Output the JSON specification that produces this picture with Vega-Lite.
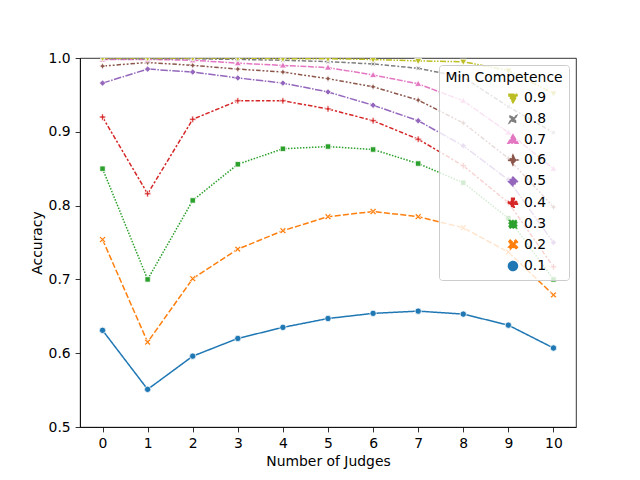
{
  "$schema": "https://vega.github.io/schema/vega-lite/v6.json",
  "description": "Accuracy by number of judges, one line per minimum competence",
  "width": 496,
  "height": 369,
  "autosize": {"type": "none"},
  "padding": {"left": 80, "top": 58, "right": 64, "bottom": 53},
  "config": {
    "font": "DejaVu Sans",
    "view": {"stroke": "black", "strokeWidth": 0.8},
    "axis": {
      "grid": false,
      "domainColor": "black",
      "domainWidth": 0.8,
      "tickColor": "black",
      "tickWidth": 0.8,
      "tickSize": 4.9,
      "labelFontSize": 13.9,
      "labelColor": "black",
      "labelPadding": 4.9,
      "labelFont": "DejaVu Sans",
      "titleFont": "DejaVu Sans",
      "titleFontSize": 13.9,
      "titleFontWeight": "normal",
      "titleColor": "black"
    }
  },
  "data": {
    "values": [
      {"judges": 0, "comp": "0.1", "acc": 0.631}, {"judges": 1, "comp": "0.1", "acc": 0.551}, {"judges": 2, "comp": "0.1", "acc": 0.596}, {"judges": 3, "comp": "0.1", "acc": 0.620}, {"judges": 4, "comp": "0.1", "acc": 0.635}, {"judges": 5, "comp": "0.1", "acc": 0.647}, {"judges": 6, "comp": "0.1", "acc": 0.654}, {"judges": 7, "comp": "0.1", "acc": 0.657}, {"judges": 8, "comp": "0.1", "acc": 0.653}, {"judges": 9, "comp": "0.1", "acc": 0.638}, {"judges": 10, "comp": "0.1", "acc": 0.607},
      {"judges": 0, "comp": "0.2", "acc": 0.754}, {"judges": 1, "comp": "0.2", "acc": 0.615}, {"judges": 2, "comp": "0.2", "acc": 0.701}, {"judges": 3, "comp": "0.2", "acc": 0.741}, {"judges": 4, "comp": "0.2", "acc": 0.766}, {"judges": 5, "comp": "0.2", "acc": 0.785}, {"judges": 6, "comp": "0.2", "acc": 0.792}, {"judges": 7, "comp": "0.2", "acc": 0.785}, {"judges": 8, "comp": "0.2", "acc": 0.770}, {"judges": 9, "comp": "0.2", "acc": 0.737}, {"judges": 10, "comp": "0.2", "acc": 0.679},
      {"judges": 0, "comp": "0.3", "acc": 0.850}, {"judges": 1, "comp": "0.3", "acc": 0.700}, {"judges": 2, "comp": "0.3", "acc": 0.807}, {"judges": 3, "comp": "0.3", "acc": 0.856}, {"judges": 4, "comp": "0.3", "acc": 0.877}, {"judges": 5, "comp": "0.3", "acc": 0.880}, {"judges": 6, "comp": "0.3", "acc": 0.876}, {"judges": 7, "comp": "0.3", "acc": 0.857}, {"judges": 8, "comp": "0.3", "acc": 0.831}, {"judges": 9, "comp": "0.3", "acc": 0.783}, {"judges": 10, "comp": "0.3", "acc": 0.700},
      {"judges": 0, "comp": "0.4", "acc": 0.920}, {"judges": 1, "comp": "0.4", "acc": 0.816}, {"judges": 2, "comp": "0.4", "acc": 0.917}, {"judges": 3, "comp": "0.4", "acc": 0.942}, {"judges": 4, "comp": "0.4", "acc": 0.942}, {"judges": 5, "comp": "0.4", "acc": 0.931}, {"judges": 6, "comp": "0.4", "acc": 0.915}, {"judges": 7, "comp": "0.4", "acc": 0.890}, {"judges": 8, "comp": "0.4", "acc": 0.854}, {"judges": 9, "comp": "0.4", "acc": 0.804}, {"judges": 10, "comp": "0.4", "acc": 0.717},
      {"judges": 0, "comp": "0.5", "acc": 0.966}, {"judges": 1, "comp": "0.5", "acc": 0.985}, {"judges": 2, "comp": "0.5", "acc": 0.981}, {"judges": 3, "comp": "0.5", "acc": 0.973}, {"judges": 4, "comp": "0.5", "acc": 0.966}, {"judges": 5, "comp": "0.5", "acc": 0.954}, {"judges": 6, "comp": "0.5", "acc": 0.936}, {"judges": 7, "comp": "0.5", "acc": 0.915}, {"judges": 8, "comp": "0.5", "acc": 0.881}, {"judges": 9, "comp": "0.5", "acc": 0.835}, {"judges": 10, "comp": "0.5", "acc": 0.750},
      {"judges": 0, "comp": "0.6", "acc": 0.989}, {"judges": 1, "comp": "0.6", "acc": 0.994}, {"judges": 2, "comp": "0.6", "acc": 0.990}, {"judges": 3, "comp": "0.6", "acc": 0.985}, {"judges": 4, "comp": "0.6", "acc": 0.981}, {"judges": 5, "comp": "0.6", "acc": 0.972}, {"judges": 6, "comp": "0.6", "acc": 0.961}, {"judges": 7, "comp": "0.6", "acc": 0.943}, {"judges": 8, "comp": "0.6", "acc": 0.912}, {"judges": 9, "comp": "0.6", "acc": 0.864}, {"judges": 10, "comp": "0.6", "acc": 0.798},
      {"judges": 0, "comp": "0.7", "acc": 0.998}, {"judges": 1, "comp": "0.7", "acc": 0.998}, {"judges": 2, "comp": "0.7", "acc": 0.997}, {"judges": 3, "comp": "0.7", "acc": 0.993}, {"judges": 4, "comp": "0.7", "acc": 0.990}, {"judges": 5, "comp": "0.7", "acc": 0.987}, {"judges": 6, "comp": "0.7", "acc": 0.977}, {"judges": 7, "comp": "0.7", "acc": 0.965}, {"judges": 8, "comp": "0.7", "acc": 0.942}, {"judges": 9, "comp": "0.7", "acc": 0.899}, {"judges": 10, "comp": "0.7", "acc": 0.850},
      {"judges": 0, "comp": "0.8", "acc": 0.999}, {"judges": 1, "comp": "0.8", "acc": 0.999}, {"judges": 2, "comp": "0.8", "acc": 0.999}, {"judges": 3, "comp": "0.8", "acc": 0.998}, {"judges": 4, "comp": "0.8", "acc": 0.997}, {"judges": 5, "comp": "0.8", "acc": 0.995}, {"judges": 6, "comp": "0.8", "acc": 0.992}, {"judges": 7, "comp": "0.8", "acc": 0.986}, {"judges": 8, "comp": "0.8", "acc": 0.974}, {"judges": 9, "comp": "0.8", "acc": 0.934}, {"judges": 10, "comp": "0.8", "acc": 0.899},
      {"judges": 0, "comp": "0.9", "acc": 1.000}, {"judges": 1, "comp": "0.9", "acc": 1.000}, {"judges": 2, "comp": "0.9", "acc": 1.000}, {"judges": 3, "comp": "0.9", "acc": 1.000}, {"judges": 4, "comp": "0.9", "acc": 0.999}, {"judges": 5, "comp": "0.9", "acc": 0.999}, {"judges": 6, "comp": "0.9", "acc": 0.998}, {"judges": 7, "comp": "0.9", "acc": 0.996}, {"judges": 8, "comp": "0.9", "acc": 0.995}, {"judges": 9, "comp": "0.9", "acc": 0.983}, {"judges": 10, "comp": "0.9", "acc": 0.952}
    ]
  },
  "encoding": {
    "x": {
      "field": "judges",
      "type": "quantitative",
      "title": "Number of Judges",
      "scale": {"domain": [-0.5, 10.5], "nice": false, "zero": false},
      "axis": {"values": [0, 1, 2, 3, 4, 5, 6, 7, 8, 9, 10], "labelAngle": 0, "titlePadding": 4}
    },
    "y": {
      "field": "acc",
      "type": "quantitative",
      "title": "Accuracy",
      "scale": {"domain": [0.5, 1.0], "nice": false, "zero": false},
      "axis": {"values": [0.5, 0.6, 0.7, 0.8, 0.9, 1.0], "format": ".1f", "titlePadding": 4}
    },
    "color": {
      "field": "comp",
      "type": "nominal",
      "scale": {
        "domain": ["0.9", "0.8", "0.7", "0.6", "0.5", "0.4", "0.3", "0.2", "0.1"],
        "range": ["#bcbd22", "#7f7f7f", "#e377c2", "#8c564b", "#9467bd", "#d62728", "#2ca02c", "#ff7f0e", "#1f77b4"]
      },
      "legend": {
        "title": "Min Competence",
        "orient": "top-right",
        "offset": 7,
        "padding": 6,
        "titleAnchor": "middle",
        "titleFont": "DejaVu Sans",
        "titleFontSize": 13.9,
        "titleFontWeight": "normal",
        "titleColor": "black",
        "titlePadding": 6,
        "labelFont": "DejaVu Sans",
        "labelFontSize": 13.9,
        "labelColor": "black",
        "labelOffset": 4,
        "symbolSize": 81,
        "symbolOffset": 44,
        "symbolStrokeWidth": 1.5,
        "rowPadding": 5.4,
        "strokeColor": "#cccccc",
        "fillColor": "rgba(255,255,255,0.8)",
        "cornerRadius": 3,
        "encode": {
          "symbols": {
            "update": {
              "strokeWidth": {"value": 1.5},
              "size": {"value": 81},
              "opacity": {"value": 1}
            }
          }
        }
      }
    }
  },
  "layer": [
    {
      "mark": {"type": "line", "strokeWidth": 1.5, "clip": true},
      "encoding": {
        "strokeDash": {
          "field": "comp",
          "type": "nominal",
          "scale": {
            "domain": ["0.9", "0.8", "0.7", "0.6", "0.5", "0.4", "0.3", "0.2", "0.1"],
            "range": [[6, 1.5, 1.5, 1.5, 1.5, 1.5], [4.5, 1.9, 4.5, 1.9, 1.9, 1.9], [6, 1.5, 6, 1.5, 1.5, 1.5], [4.5, 1.9, 1.9, 1.9, 1.9, 1.9], [7.5, 1.5, 1.5, 1.5], [4.5, 1.9, 2.25, 1.9], [1.5, 1.5], [6, 2.25], [1, 0]]
          },
          "legend": null
        }
      }
    },
    {
      "mark": {"type": "point", "filled": true, "size": 40, "stroke": "white", "strokeWidth": 0.75, "opacity": 1, "clip": true},
      "encoding": {
        "shape": {
          "field": "comp",
          "type": "nominal",
          "scale": {
            "domain": ["0.9", "0.8", "0.7", "0.6", "0.5", "0.4", "0.3", "0.2", "0.1"],
            "range": ["M0,1.1L1.1,-0.8L-1.1,-0.8Z", "M-0.8,-0.8L0,-0.4L0.8,-0.8L0.4,0L0.8,0.8L0,0.4L-0.8,0.8L-0.4,0Z", "M0,-1.1L1.1,0.8L-1.1,0.8Z", "M0,-1.1L0.35,-0.35L1.1,0L0.35,0.35L0,1.1L-0.35,0.35L-1.1,0L-0.35,-0.35Z", "M0,-1L1,0L0,1L-1,0Z", "M-0.3,-1H0.3V-0.3H1V0.3H0.3V1H-0.3V0.3H-1V-0.3H-0.3Z", "M-0.85,-0.85H0.85V0.85H-0.85Z", "M-1,-0.6L-0.6,-1L0,-0.4L0.6,-1L1,-0.6L0.4,0L1,0.6L0.6,1L0,0.4L-0.6,1L-1,0.6L-0.4,0Z", "circle"]
          },
          "legend": null
        }
      }
    }
  ]
}
